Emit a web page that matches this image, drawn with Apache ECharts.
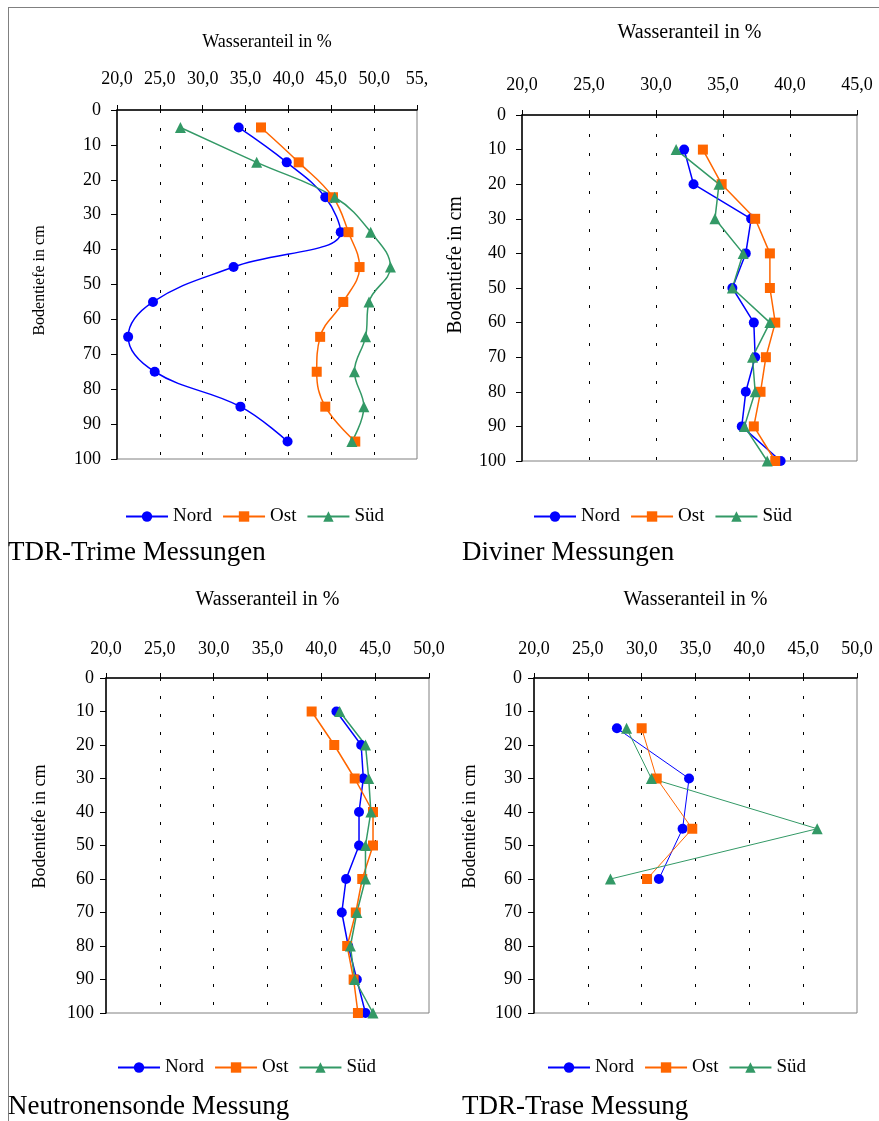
<!DOCTYPE html>
<html>
<head>
<meta charset="utf-8">
<script src="https://cdn.jsdelivr.net/npm/echarts@6/dist/echarts.min.js"></script>
<style>
  html, body { margin: 0; padding: 0; background: #fff; }
  #frame {
    position: absolute; left: 8px; top: 7px; width: 871px; height: 1114px;
    border-top: 1px solid #808080; border-left: 1px solid #808080;
  }
  #main { position: absolute; left: 0; top: 0; width: 879px; height: 1121px; }
</style>
</head>
<body>
<div id="frame"></div>
<div id="main"></div>
<script>
// Tiefen (cm) und Wasseranteile (%) der vier Messverfahren
const depthTrime = [5, 15, 25, 35, 45, 55, 65, 75, 85, 95];
const trimeNord = [34.2, 39.8, 44.3, 46.1, 33.6, 24.2, 21.3, 24.4, 34.4, 39.9];
const trimeOst  = [36.8, 41.2, 45.2, 47.0, 48.3, 46.4, 43.7, 43.3, 44.3, 47.8];
const trimeSued = [27.4, 36.3, 45.4, 49.6, 51.9, 49.4, 49.0, 47.7, 48.8, 47.4];

const depthDiviner = [10, 20, 30, 40, 50, 60, 70, 80, 90, 100];
const divinerNord = [32.1, 32.8, 37.1, 36.7, 35.7, 37.3, 37.4, 36.7, 36.4, 39.3];
const divinerOst  = [33.5, 34.9, 37.4, 38.5, 38.5, 38.9, 38.2, 37.8, 37.3, 38.9];
const divinerSued = [31.5, 34.7, 34.4, 36.5, 35.7, 38.5, 37.2, 37.4, 36.6, 38.3];

const depthNeutron = [10, 20, 30, 40, 50, 60, 70, 80, 90, 100];
const neutronNord = [41.4, 43.7, 43.9, 43.5, 43.5, 42.3, 41.9, 42.5, 43.3, 44.1];
const neutronOst  = [39.1, 41.2, 43.1, 44.8, 44.8, 43.8, 43.2, 42.4, 43.0, 43.4];
const neutronSued = [41.7, 44.1, 44.4, 44.6, 44.1, 44.1, 43.3, 42.7, 43.1, 44.8];

const depthTrase = [15, 30, 45, 60];
const traseNord = [27.7, 34.4, 33.8, 31.6];
const traseOst  = [30.0, 31.4, 34.7, 30.5];
const traseSued = [28.6, 30.9, 46.3, 27.1];

const seriesNames = ['Nord', 'Ost', 'Süd'];
const depthTicks = { min: 0, max: 100, interval: 10 };

const FONT = 'Liberation Serif';
const colors = ['#0000ff', '#ff6600', '#339966'];
const symbols = ['circle', 'rect', 'triangle'];
const symbolSizes = [10, 10, 11];

// Layout der vier Diagramme
const panels = [
  { title: 'TDR-Trime Messungen', titlePos: [8, 539],
    grid: { left: 117, top: 110, width: 300, height: 349 },
    xMax: 55, depth: depthTrime, values: [trimeNord, trimeOst, trimeSued],
    smooth: true, lineWidth: 1.5,
    xNameSize: 18, xNameGap: 59, xLabelMargin: 22,
    yNameSize: 16, yNameGap: 69, yNameShift: 8, yLabelMargin: 16,
    legend: [125, 507], dash: [3, 15] },
  { title: 'Diviner Messungen', titlePos: [462, 539],
    grid: { left: 522, top: 115, width: 335, height: 346 },
    xMax: 45, depth: depthDiviner, values: [divinerNord, divinerOst, divinerSued],
    smooth: false, lineWidth: 1.5,
    xNameSize: 20, xNameGap: 72, xLabelMargin: 21,
    yNameSize: 20, yNameGap: 56, yNameShift: 46, yLabelMargin: 16,
    legend: [533, 507], dash: [3, 16] },
  { title: 'Neutronensonde Messung', titlePos: [8, 1093],
    grid: { left: 106, top: 678, width: 323, height: 335 },
    xMax: 50, depth: depthNeutron, values: [neutronNord, neutronOst, neutronSued],
    smooth: false, lineWidth: 1.5,
    xNameSize: 20, xNameGap: 68, xLabelMargin: 20,
    yNameSize: 18, yNameGap: 57, yNameShift: 38, yLabelMargin: 12,
    legend: [117, 1058], dash: [3, 15] },
  { title: 'TDR-Trase Messung', titlePos: [462, 1093],
    grid: { left: 534, top: 678, width: 323, height: 335 },
    xMax: 50, depth: depthTrase, values: [traseNord, traseOst, traseSued],
    smooth: false, lineWidth: 1,
    xNameSize: 20, xNameGap: 68, xLabelMargin: 20,
    yNameSize: 18, yNameGap: 55, yNameShift: 38, yLabelMargin: 12,
    legend: [547, 1058], dash: [3, 15] }
];

function fmtPercent(v) {
  // im Original ist die letzte Beschriftung abgeschnitten
  if (v === 55) return '55,';
  return v.toFixed(1).replace('.', ',');
}

let myChart = echarts.init(document.getElementById('main'));

let option = {
  backgroundColor: 'transparent',
  animation: false,
  title: [], grid: [], xAxis: [], yAxis: [], legend: [], series: []
};

panels.forEach(function (p, i) {
  option.title.push({
    text: p.title, left: p.titlePos[0], top: p.titlePos[1], padding: 0,
    textStyle: { fontFamily: FONT, fontSize: 27, fontWeight: 'normal', color: '#000' }
  });
  option.grid.push(Object.assign({
    show: true, borderColor: '#808080', borderWidth: 1, backgroundColor: 'transparent'
  }, p.grid));
  option.xAxis.push({
    type: 'value', gridIndex: i, position: 'top',
    min: 20, max: p.xMax, interval: 5,
    name: 'Wasseranteil in %', nameLocation: 'middle', nameGap: p.xNameGap,
    nameTextStyle: { fontFamily: FONT, fontSize: p.xNameSize, color: '#000' },
    axisLine: { show: true, onZero: false, lineStyle: { color: '#000', width: 1.5 } },
    axisTick: { show: true, length: 5, lineStyle: { color: '#000' } },
    axisLabel: { margin: p.xLabelMargin, fontFamily: FONT, fontSize: 18, color: '#000', formatter: fmtPercent },
    splitLine: {
      show: true, showMinLine: false, showMaxLine: false,
      lineStyle: { color: '#000', width: 1, type: p.dash }
    }
  });
  option.yAxis.push({
    type: 'value', gridIndex: i, inverse: true,
    min: depthTicks.min, max: depthTicks.max, interval: depthTicks.interval,
    name: 'Bodentiefe in cm', nameLocation: 'middle', nameRotate: 90, nameGap: p.yNameGap,
    nameTextStyle: { fontFamily: FONT, fontSize: p.yNameSize, color: '#000', padding: [0, 0, 0, p.yNameShift] },
    axisLine: { show: true, onZero: false, lineStyle: { color: '#000', width: 1.5 } },
    axisTick: { show: true, length: 6, lineStyle: { color: '#000' } },
    axisLabel: { margin: p.yLabelMargin, fontFamily: FONT, fontSize: 18, color: '#000' },
    splitLine: { show: false }
  });
  option.legend.push({
    data: seriesNames, left: p.legend[0], top: p.legend[1],
    padding: 0, itemGap: 10, itemWidth: 42, itemHeight: 13,
    textStyle: { fontFamily: FONT, fontSize: 19, color: '#000' }
  });
  seriesNames.forEach(function (name, k) {
    option.series.push({
      name: name, type: 'line', xAxisIndex: i, yAxisIndex: i,
      smooth: p.smooth ? 0.4 : false,
      symbol: symbols[k], symbolSize: symbolSizes[k], showAllSymbol: true,
      lineStyle: { color: colors[k], width: p.lineWidth },
      itemStyle: { color: colors[k] },
      data: p.depth.map(function (d, j) { return [p.values[k][j], d]; })
    });
  });
});

myChart.setOption(option);
</script>
</body>
</html>
